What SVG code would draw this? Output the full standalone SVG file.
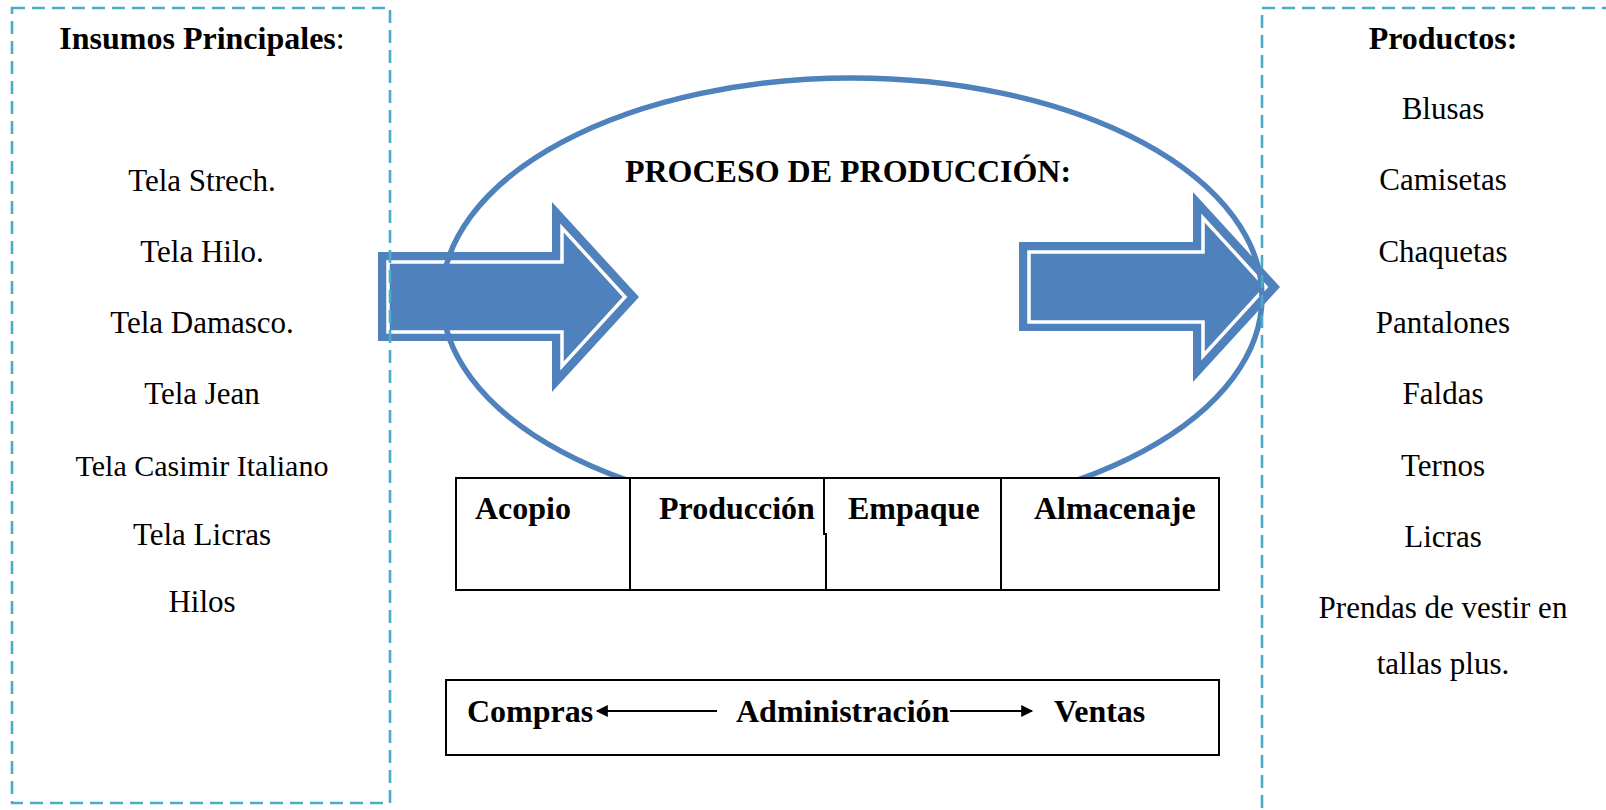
<svg xmlns="http://www.w3.org/2000/svg" width="1606" height="810" viewBox="0 0 1606 810">
  <style>
    text { font-family: "Liberation Serif", "Times New Roman", serif; fill: #000; }
    .reg { font-size: 31px; text-anchor: middle; }
    .hdr { font-size: 32px; font-weight: bold; text-anchor: middle; }
    .lbl { font-size: 32px; font-weight: bold; }
    .dash { fill: none; stroke: #4BACC6; stroke-width: 2.6; stroke-dasharray: 13 7; }
    .box { fill: #fff; stroke: #000; stroke-width: 2; }
    .div { stroke: #000; stroke-width: 2; fill: none; }
    .arrowOuter { fill: #4F81BD; }
    .arrowInner { fill: none; stroke: #fff; stroke-width: 3.5; stroke-linejoin: miter; }
    .conn { stroke: #000; stroke-width: 2.2; fill: none; }
  </style>
  <defs>
    <marker id="ah" viewBox="0 0 10 10" refX="9" refY="5" markerWidth="14" markerHeight="12" markerUnits="userSpaceOnUse" orient="auto">
      <path d="M0,0 L10,5 L0,10 z" fill="#000"/>
    </marker>
    <g id="bigArrow">
      <polygon class="arrowOuter" points="378,252 552,252 552,202 639,297 552,392 552,341 378,341"/>
      <polygon class="arrowInner" points="388,262 562,262 562,228 625,297 562,366 562,332 388,332"/>
    </g>
  </defs>
  <rect width="1606" height="810" fill="#fff"/>

  <g id="arrow-in">
    <use href="#bigArrow"/>
  </g>
  <g id="arrow-out">
    <use href="#bigArrow" transform="translate(641,-10)"/>
  </g>

  <g id="proceso">
    <ellipse cx="852" cy="297" rx="410" ry="219" fill="none" stroke="#4F81BD" stroke-width="5.5"/>
    <text class="hdr" x="848" y="182">PROCESO DE PRODUCCIÓN:</text>
  </g>

  <g id="etapas">
    <rect class="box" x="456" y="478" width="763" height="112"/>
    <line class="div" x1="630" y1="478" x2="630" y2="590"/>
    <polyline class="div" points="824,478 824,534 826,534 826,590"/>
    <line class="div" x1="1001" y1="478" x2="1001" y2="590"/>
    <text class="lbl" x="475" y="519">Acopio</text>
    <text class="lbl" x="659" y="519">Producción</text>
    <text class="lbl" x="848" y="519">Empaque</text>
    <text class="lbl" x="1034" y="519">Almacenaje</text>
  </g>

  <g id="gestion">
    <rect class="box" x="446" y="680" width="773" height="75"/>
    <text class="lbl" x="467" y="722">Compras</text>
    <text class="lbl" x="736" y="722">Administración</text>
    <text class="lbl" x="1054" y="722">Ventas</text>
  </g>

  <g id="connectors">
    <line class="conn" x1="717" y1="711" x2="597" y2="711" marker-end="url(#ah)"/>
    <line class="conn" x1="950" y1="711" x2="1032" y2="711" marker-end="url(#ah)"/>
  </g>

  <g id="insumos">
    <rect class="dash" x="12" y="8" width="378" height="795"/>
    <text class="hdr" x="202" y="49">Insumos Principales<tspan font-weight="normal">:</tspan></text>
    <text class="reg" x="202" y="191">Tela Strech.</text>
    <text class="reg" x="202" y="262">Tela Hilo.</text>
    <text class="reg" x="202" y="333">Tela Damasco.</text>
    <text class="reg" x="202" y="404">Tela Jean</text>
    <text class="reg" x="202" y="476" style="font-size:30px">Tela Casimir Italiano</text>
    <text class="reg" x="202" y="545">Tela Licras</text>
    <text class="reg" x="202" y="612">Hilos</text>
  </g>

  <g id="productos">
    <rect class="dash" x="1262" y="8" width="400" height="850"/>
    <text class="hdr" x="1443" y="49">Productos:</text>
    <text class="reg" x="1443" y="119">Blusas</text>
    <text class="reg" x="1443" y="190">Camisetas</text>
    <text class="reg" x="1443" y="262">Chaquetas</text>
    <text class="reg" x="1443" y="333">Pantalones</text>
    <text class="reg" x="1443" y="404">Faldas</text>
    <text class="reg" x="1443" y="476">Ternos</text>
    <text class="reg" x="1443" y="547">Licras</text>
    <text class="reg" x="1443" y="618">Prendas de vestir en</text>
    <text class="reg" x="1443" y="674">tallas plus.</text>
  </g>
</svg>
